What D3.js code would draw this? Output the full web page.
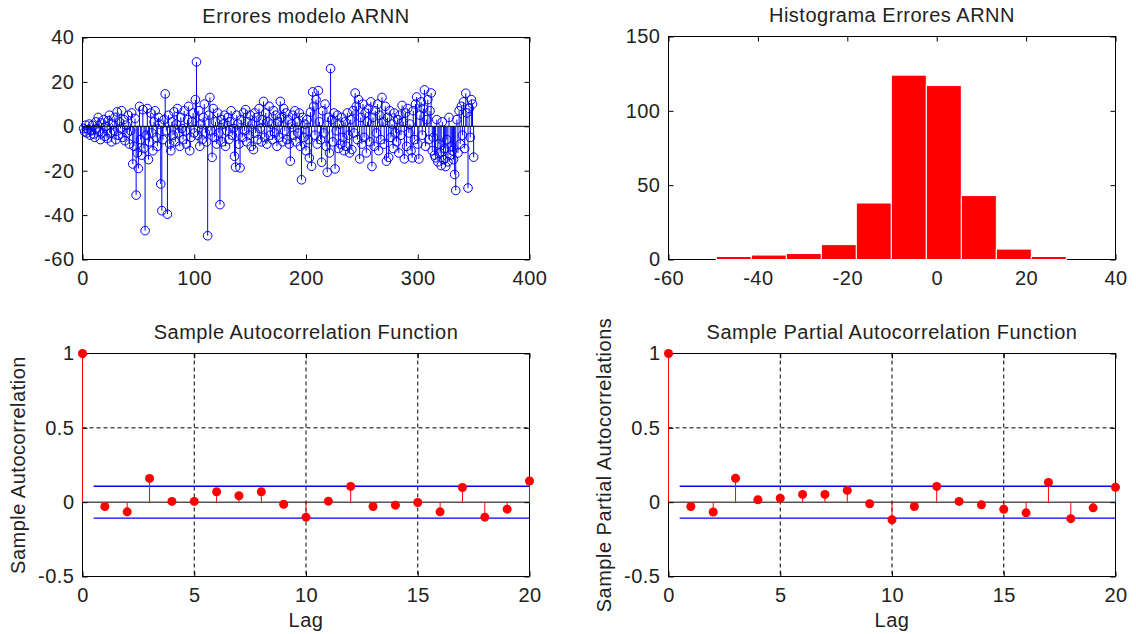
<!DOCTYPE html>
<html>
<head>
<meta charset="utf-8">
<script src="https://cdn.jsdelivr.net/npm/d3@7"></script>
<style>
body { margin: 0; background: #fff; }
svg text { font-family: "Liberation Sans", Arial, sans-serif; font-size: 20px; fill: #222; letter-spacing: 0.5px; }
</style>
</head>
<body>
<div class="diagram"></div>
<script>
// errores del modelo ARNN (350 muestras)
var errores = [
	-1, -2.5, 0.5, -3, -1.5, 1, -4, -2, 0.5, -3.5,
	-5, 2, -1, 4, -2.5, -6, 1.5, -3, 3, -4.5,
	0, -5.5, 2.5, 5, -3, -7, 1, -2, 4, -6,
	6.5, -4, 2, -1, 7, -5, 3, -6.5, 0.5, -3,
	5, -8, -2, 6, -17, -9, 3.5, -31, -12, -19,
	9, -6, -13, 7.5, -10, -47, -4, 8, -15, -7,
	6, -3, -11, 2, 7, -5, -9, 4, 1, -26,
	-38, -6, 3, 14.6, -2, -39.6, 5, -8, -11, 2,
	-4, 6.5, -7, 1, 8, -3, -9, 4, -1, -6,
	7, -2, -8, 3, 9, -11, -5, 2, 6, -3,
	12, 29, -4, 7, -9, 1, -6, 4, 10, -3,
	-7, -49.3, 5, 13, -2, -14, 8, -5, 2, -8,
	6, -3, -35.3, 3, -7, 1, 5, -9, -2, 4,
	-6, 2, 7, -4, -1, -13.5, -18.4, 5, 1, -8,
	-18.7, 3, -5, 6, -2, 7.5, -7, 2, -4, 5,
	-9, 1, -10.5, 6, -3, 4, -6, 8, -1, -7,
	3, 11.2, -5, 6, -8, 2, 9, -4, 1, -6,
	7, -3, 5, -9, 2, -5, 11.2, 4, -7, 8,
	-2, 6, -6, 3, -8, -15.7, 1, 5, -4, 7,
	-7, 2, -3, 6, -9, -24.1, 4, -5, 1, -11,
	3, -6, -14.2, 6.4, -18, 15.5, 9, -4, 12, -8,
	16.1, 2, -6, -16.2, 7, -3, 10, -9, -20.7, 4,
	-12, 26, 3, -7, 6, -19.2, -2, 5, -10, 1,
	-8, 4, -5, -11, 2, -9, 6, -4, -12, 3,
	-10.5, 7, -3, 15, 9, -6, 12, -14.7, 4, -8,
	10, -5, 6, -12, 2, 8, -7, 11, -18.1, 4,
	-9, 7, -3, 10, -11, 5, -6, 13, 2, -8,
	9, -15.7, 4, -14, 7, -5, 1, -10, 6, -3,
	-7, 3, -12, 5, -4, 9.4, 2, -14.7, 6, -9,
	8, -3, 1, -11, -14.2, 7, -6, 10, 13.2, -8,
	-14.7, 5, 11, -4, 8, 16.4, -9, 3, 12, -6,
	7, 15, -11, -5, -13, -14.2, 3, -16, -8, -12,
	-17.7, 2, -15, -10, -18.1, -6, -16, 4, -13, -9,
	-11, -15, -21.7, -28.9, 3, -12, 7, -8, 9, -4,
	11, -10, 14.9, 6, -27.8, 8, -5, 12, 10, -13.9
];

// histograma (10 clases)
var histEdges = [-49.3, -41.47, -33.64, -25.81, -17.98, -10.15, -2.32, 5.51, 13.34, 21.17, 29];
var histCounts = [2, 3, 4, 10, 38, 124, 117, 43, 7, 2];

// funciones de autocorrelacion
var lags = [0, 1, 2, 3, 4, 5, 6, 7, 8, 9, 10, 11, 12, 13, 14, 15, 16, 17, 18, 19, 20];
var acf = [1, -0.029, -0.065, 0.160, 0.005, 0.005, 0.070, 0.043, 0.070, -0.014, -0.101,
	0.007, 0.106, -0.029, -0.020, -0.002, -0.065, 0.099, -0.101, -0.047, 0.142];
var pacf = [1, -0.029, -0.066, 0.161, 0.016, 0.027, 0.052, 0.052, 0.079, -0.011, -0.118,
	-0.029, 0.106, 0.005, -0.018, -0.048, -0.072, 0.133, -0.111, -0.038, 0.100];
var bound = 0.1069;

var tlXTicks = [0, 100, 200, 300, 400], tlYTicks = [-60, -40, -20, 0, 20, 40];
var trXTicks = [-60, -40, -20, 0, 20, 40], trYTicks = [0, 50, 100, 150];
var acXTicks = [0, 5, 10, 15, 20], acYTicks = [-0.5, 0, 0.5, 1];

var width = 1136, height = 634;

var svg = d3.select('.diagram')
	.append('svg')
	.attr('width', width)
	.attr('height', height);

var fmt = function(d) { return String(d); };

function drawAxes(x, y, xTicks, yTicks, title) {
	var x0 = x.range()[0], x1 = x.range()[1], yb = y.range()[0], yt = y.range()[1];
	var g = svg.append('g');

	g.append('g')
		.attr('transform', 'translate(0,' + yb + ')')
		.call(d3.axisBottom(x).tickValues(xTicks).tickSize(-5).tickSizeOuter(0).tickPadding(11).tickFormat(fmt));
	g.append('g')
		.attr('transform', 'translate(0,' + yt + ')')
		.call(d3.axisTop(x).tickValues(xTicks).tickSize(-5).tickSizeOuter(0).tickFormat(''));
	g.append('g')
		.attr('transform', 'translate(' + x0 + ',0)')
		.call(d3.axisLeft(y).tickValues(yTicks).tickSize(-5).tickSizeOuter(0).tickPadding(8).tickFormat(fmt));
	g.append('g')
		.attr('transform', 'translate(' + x1 + ',0)')
		.call(d3.axisRight(y).tickValues(yTicks).tickSize(-5).tickSizeOuter(0).tickFormat(''));
	g.selectAll('.domain').remove();
	g.selectAll('.tick line').attr('stroke', '#000');

	g.append('rect')
		.attr('x', x0).attr('y', yt)
		.attr('width', x1 - x0).attr('height', yb - yt)
		.attr('fill', 'none')
		.attr('stroke', '#000');

	svg.append('text')
		.attr('x', (x0 + x1) / 2)
		.attr('y', yt - 15)
		.attr('text-anchor', 'middle')
		.text(title);
	return g;
}

// --- Errores modelo ARNN (stem) ---
var xE = d3.scaleLinear().domain([0, 400]).range([82.5, 529.5]);
var yE = d3.scaleLinear().domain([-60, 40]).range([259.5, 37.5]);
drawAxes(xE, yE, tlXTicks, tlYTicks, 'Errores modelo ARNN');

var stemE = svg.append('g').attr('class', 'stems');
stemE.selectAll('line')
	.data(errores)
	.enter().append('line')
	.attr('x1', function(d, i) { return xE(i + 1); })
	.attr('x2', function(d, i) { return xE(i + 1); })
	.attr('y1', yE(0))
	.attr('y2', function(d) { return yE(d); })
	.attr('stroke', '#0000ff')
	.attr('stroke-width', 1);
stemE.selectAll('circle')
	.data(errores)
	.enter().append('circle')
	.attr('cx', function(d, i) { return xE(i + 1); })
	.attr('cy', function(d) { return yE(d); })
	.attr('r', 4.3)
	.attr('fill', 'none')
	.attr('stroke', '#0000ff')
	.attr('stroke-width', 1);
svg.append('line')
	.attr('x1', xE(0)).attr('x2', xE(400))
	.attr('y1', yE(0)).attr('y2', yE(0))
	.attr('stroke', '#000');

// --- Histograma ---
var xH = d3.scaleLinear().domain([-60, 40]).range([668.5, 1115.5]);
var yH = d3.scaleLinear().domain([0, 150]).range([259.5, 36.5]);
drawAxes(xH, yH, trXTicks, trYTicks, 'Histograma Errores ARNN');

svg.append('g')
	.selectAll('rect')
	.data(histCounts)
	.enter().append('rect')
	.attr('x', function(d, i) { return xH(histEdges[i]); })
	.attr('width', function(d, i) { return xH(histEdges[i + 1]) - xH(histEdges[i]); })
	.attr('y', function(d) { return yH(d); })
	.attr('height', function(d) { return yH(0) - yH(d); })
	.attr('fill', '#ff0000')
	.attr('stroke', '#fff')
	.attr('stroke-width', 1);

// --- ACF / PACF ---
function corrPlot(x, y, values, title, ylabel) {
	var x0 = x.range()[0], x1 = x.range()[1], yb = y.range()[0], yt = y.range()[1];
	var grid = svg.append('g').attr('class', 'grid');
	grid.selectAll('.gx')
		.data(acXTicks.slice(1, -1))
		.enter().append('line')
		.attr('x1', function(d) { return x(d); }).attr('x2', function(d) { return x(d); })
		.attr('y1', yt).attr('y2', yb)
		.attr('stroke', '#000').attr('stroke-dasharray', '4,3');
	grid.selectAll('.gy')
		.data([0.5])
		.enter().append('line')
		.attr('x1', x0).attr('x2', x1)
		.attr('y1', function(d) { return y(d); }).attr('y2', function(d) { return y(d); })
		.attr('stroke', '#000').attr('stroke-dasharray', '4,3');

	drawAxes(x, y, acXTicks, acYTicks, title);

	svg.append('line')
		.attr('x1', x0).attr('x2', x1)
		.attr('y1', y(0)).attr('y2', y(0))
		.attr('stroke', '#000');

	svg.append('g')
		.selectAll('line')
		.data([bound, -bound])
		.enter().append('line')
		.attr('x1', x(0.5)).attr('x2', x(20))
		.attr('y1', function(d) { return y(d); }).attr('y2', function(d) { return y(d); })
		.attr('stroke', '#0000ff')
		.attr('stroke-width', 1.3);

	var st = svg.append('g');
	st.selectAll('line')
		.data(values)
		.enter().append('line')
		.attr('x1', function(d, i) { return x(lags[i]); })
		.attr('x2', function(d, i) { return x(lags[i]); })
		.attr('y1', y(0))
		.attr('y2', function(d) { return y(d); })
		.attr('stroke', '#ff0000');
	st.selectAll('circle')
		.data(values)
		.enter().append('circle')
		.attr('cx', function(d, i) { return x(lags[i]); })
		.attr('cy', function(d) { return y(d); })
		.attr('r', 4.5)
		.attr('fill', '#ff0000');

	svg.append('text')
		.attr('x', (x0 + x1) / 2)
		.attr('y', 627)
		.attr('text-anchor', 'middle')
		.text('Lag');

	svg.append('text')
		.attr('transform', 'translate(' + (x0 - 58) + ',' + ((yb + yt) / 2) + ') rotate(-90)')
		.attr('text-anchor', 'middle')
		.text(ylabel);
}

var xA = d3.scaleLinear().domain([0, 20]).range([82.5, 529.5]);
var yA = d3.scaleLinear().domain([-0.5, 1]).range([576.5, 353.5]);
corrPlot(xA, yA, acf, 'Sample Autocorrelation Function', 'Sample Autocorrelation');

var xP = d3.scaleLinear().domain([0, 20]).range([668.5, 1115.5]);
corrPlot(xP, yA, pacf, 'Sample Partial Autocorrelation Function', 'Sample Partial Autocorrelations');
</script>
</body>
</html>
